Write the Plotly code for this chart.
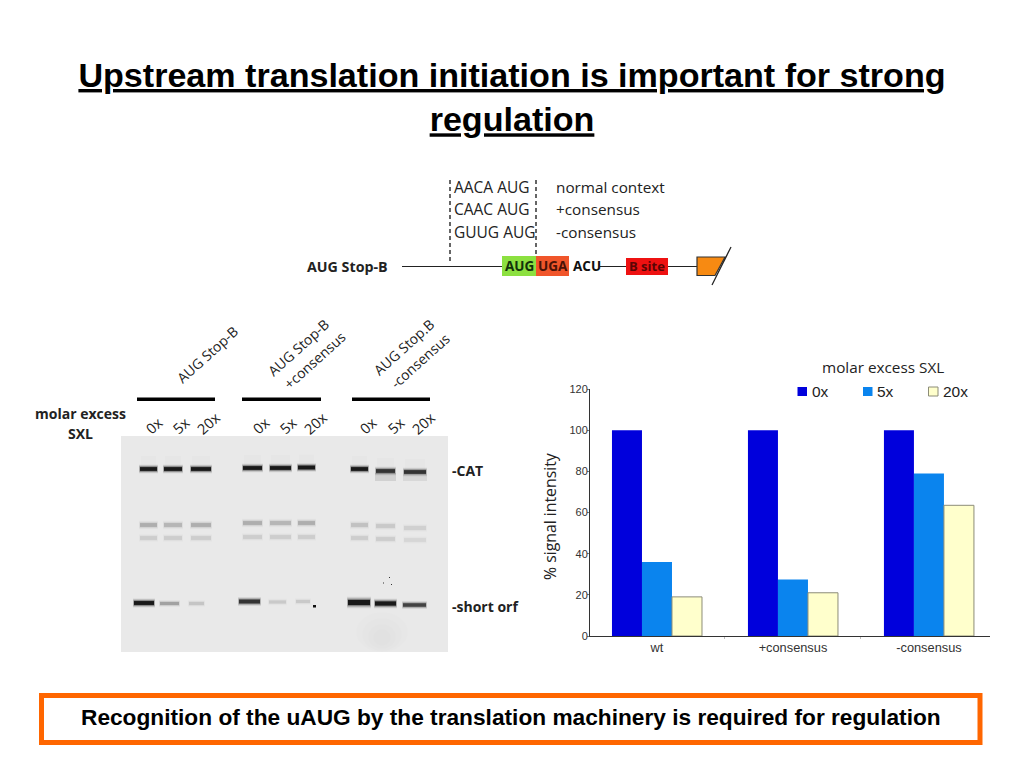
import plotly.graph_objects as go

# ---- chart data ----
categories = ["wt", "+consensus", "-consensus"]
series_names = ["0x", "5x", "20x"]
values_0x = [100, 100, 100]
values_5x = [36, 27.5, 79]
values_20x = [19, 21, 63.5]
y_ticks = [0, 20, 40, 60, 80, 100, 120]

# ---- page helpers: reference pixels to paper ----
W, H = 1024, 768
SANS = "Open Sans"
ARIAL = "Liberation Sans"
def px(x): return x / W
def py(y): return 1 - y / H

shapes, notes = [], []
def rect(x0, y0, x1, y1, fill, opacity=1.0, line=None, lw=0):
    shapes.append(dict(type="rect", xref="paper", yref="paper", x0=px(x0), x1=px(x1), y0=py(y0), y1=py(y1),
                       fillcolor=fill, opacity=opacity, layer="below",
                       line=dict(color=line or fill, width=lw)))
def seg(x0, y0, x1, y1, color="#222222", lw=1.2, dash="solid"):
    shapes.append(dict(type="line", xref="paper", yref="paper", x0=px(x0), x1=px(x1), y0=py(y0), y1=py(y1),
                       layer="below", line=dict(color=color, width=lw, dash=dash)))
def text(x, y, s, size=14, font=SANS, anchor="left", angle=0, color="#222222", bold=False):
    notes.append(dict(xref="paper", yref="paper", x=px(x), y=py(y), text=f"<b>{s}</b>" if bold else s,
                      showarrow=False, xanchor=anchor, yanchor="middle", textangle=angle,
                      font=dict(family=font, size=size, color=color), borderpad=0, borderwidth=0))

# ---- callout ----
rect(41.5, 695.5, 980, 742.5, "#ffffff", line="#ff6600", lw=5)
text(510.5, 717, "Recognition of the uAUG by the translation machinery is required for regulation",
     size=22.7, font=ARIAL, anchor="center", color="#000000", bold=True)

# ---- construct diagram ----
seg(450, 180, 450, 263, "#333333", 1.5, "4px,3px")
seg(536, 180, 536, 254, "#333333", 1.5, "4px,3px")
seg(402, 266.5, 505, 266.5)
seg(600, 266.5, 697, 266.5)
rect(502, 256, 536, 276, "#8ce040")
rect(536, 256, 569, 276, "#f0552a")
rect(626, 258, 668, 275, "#ee1111")
shapes.append(dict(type="path", xref="paper", yref="paper", layer="below",
                   path=f"M{px(697)},{py(257)} L{px(725)},{py(257)} L{px(715)},{py(275.5)} L{px(697)},{py(275.5)} Z",
                   fillcolor="#f78a12", line=dict(color="#333333", width=1.2)))
seg(731, 247, 712, 285, "#222222", 1.3)
text(307, 266, "AUG Stop-B", 14.2 * 12.5 / 14.2 * 81 / 71, bold=True)
for label, note, y in [("AACA AUG", "normal context", 187), ("CAAC AUG", "+consensus", 209.5), ("GUUG AUG", "-consensus", 232)]:
    text(454, y, label, 15.5)
    text(556, y, note, 15.3)
text(519, 266, "AUG", 13.5, anchor="center", color="#12330a", bold=True)
text(552.5, 266, "UGA", 13.5, anchor="center", color="#4a1206", bold=True)
text(586.5, 266, "ACU", 13.5, anchor="center", color="#111111", bold=True)
text(647, 266, "B site", 13, anchor="center", color="#5a0505", bold=True)

# ---- gel panel ----
rect(121, 436, 448, 652, "#e9e9e9")
for x0, x1, y0, y1 in [(356, 408, 652, 612), (362, 402, 651, 618), (368, 396, 649, 624), (373, 391, 646, 629)]:
    shapes.append(dict(type="circle", xref="paper", yref="paper", layer="below", x0=px(x0), x1=px(x1), y0=py(y0), y1=py(y1),
                       fillcolor="#000000", opacity=0.006, line=dict(width=0)))

def band(x0, x1, y, dark, thick=3.0):
    for grow, inset, alpha in [(1.6, 0, 0.08), (1.3, 0.3, 0.15), (1.0, 0.6, 0.3), (0.7, 1, 0.8)]:
        rect(x0 + inset, y - thick * grow, x1 - inset, y + thick * grow, "#000000", dark * alpha)

lanes = [(139, 158), (163, 183), (190, 212), (242, 263), (269, 292), (297, 316), (350, 369), (375, 396), (403, 427)]
cat_y = [469, 469, 469, 468, 468, 467.5, 469, 471, 472]
cat_dark = [1, 1, 1, 1, 1, 1, 1, 0.8, 0.8]
mid_y = [525, 525, 525, 523, 523, 523, 525, 526, 528]
mid_dark = [0.2, 0.17, 0.2, 0.2, 0.17, 0.2, 0.13, 0.1, 0.08]
low_y = [538, 538, 538, 537, 537, 537, 538, 539, 540]
low_dark = [0.09, 0.09, 0.09, 0.09, 0.09, 0.09, 0.09, 0.09, 0.06]
orf_lanes = [(133, 155), (159, 180), (188, 205), (238, 261), (268, 287), (295, 311), (347, 371), (374, 397), (402, 427)]
orf_y = [603, 603.5, 603.5, 601.5, 602, 601.5, 602.5, 603.5, 605]
orf_dark = [1, 0.25, 0.12, 0.8, 0.1, 0.1, 1, 1, 0.7]
orf_thick = [2.8, 2.2, 2.2, 2.8, 2.2, 2.2, 3.6, 3, 2.5]

for (a, b), y in zip(lanes, cat_y):
    rect(a + 2, y - 13, b - 2, y - 2, "#000000", 0.012)
rect(375, 473, 396, 481, "#000000", 0.1)
rect(403, 475, 427, 481, "#000000", 0.07)
for (a, b), y, d in zip(lanes, cat_y, cat_dark):
    band(a, b, y, d, 2.7)
for (a, b), y, d in zip(lanes, mid_y, mid_dark):
    band(a, b, y, d, 2.8)
for (a, b), y, d in zip(lanes, low_y, low_dark):
    band(a, b, y, d, 2.8)
for (a, b), y, d, t in zip(orf_lanes, orf_y, orf_dark, orf_thick):
    band(a, b, y, d, t)
rect(313, 605, 316, 607.5, "#111111")
for x, y in [(383, 582.5), (391, 584), (389, 577)]:
    rect(x, y, x + 1, y + 1, "#333333")

# ---- gel labels ----
for x0, x1 in [(137, 215), (242, 321), (352, 430)]:
    rect(x0, 397.5, x1, 401, "#000000")
text(207, 354, "AUG Stop-B", 14, anchor="center", angle=-42)
text(298, 347, "AUG Stop-B", 14, anchor="center", angle=-42)
text(314, 360, "+consensus", 14, anchor="center", angle=-42)
text(403, 347, "AUG Stop.B", 14, anchor="center", angle=-42)
text(420, 360, "-consensus", 14, anchor="center", angle=-42)
for xs in [(154, 181, 208), (261, 288, 315), (368, 396, 423)]:
    for x, s, yy in zip(xs, ["0x", "5x", "20x"], [425.5, 425.5, 423]):
        text(x, yy, s, 14.5, anchor="center", angle=-42)
text(80, 413, "molar excess", 14, anchor="center", bold=True)
text(80, 433, "SXL", 14, anchor="center", bold=True)
text(451.5, 470.5, "-CAT", 14, bold=True)
text(451.5, 606, "-short orf", 14, bold=True)

# ---- chart extras ----
colors = ["#0000dc", "#0a84ee", "#ffffcc"]
text(883, 367, "molar excess SXL", 15.3, anchor="center", color="#222222")
text(550, 517, "% signal intensity", 15.8, anchor="center", angle=-90, color="#222222")
for name, col, x0 in zip(series_names, colors, [797.5, 863, 928.5]):
    rect(x0, 387, x0 + 9.5, 396, col, line="#8c8c78" if name == "20x" else col, lw=1 if name == "20x" else 0)
    text(x0 + 14, 391.5, name, 15.5, font=ARIAL, color="#222222")

# ---- bars ----
fig = go.Figure()
for name, vals, col in zip(series_names, [values_0x, values_5x, values_20x], colors):
    fig.add_bar(x=categories, y=vals, name=name, marker_color=col,
                marker_line=dict(color="#8c8c78" if name == "20x" else col, width=1 if name == "20x" else 0))

fig.update_layout(
    width=W, height=H, margin=dict(l=0, r=0, t=0, b=0, autoexpand=False), autosize=False,
    paper_bgcolor="white", plot_bgcolor="white",
    barmode="group", bargap=0.338, bargroupgap=0,
    title=dict(text="Upstream translation initiation is important for strong<br>regulation",
               x=0.5, xanchor="center", xref="paper", y=1 - 87 / H, yanchor="middle",
               font=dict(family=ARIAL, size=34.1, color="#000000", weight="bold", lineposition="under")),
    xaxis=dict(domain=[px(590), px(990)], range=[-0.4926, 2.449], type="category",
               showgrid=False, showline=True, linecolor="#333333", linewidth=1,
               ticks="outside", ticklen=2, tickcolor="#bbbbbb", tickson="boundaries",
               tickfont=dict(family=ARIAL, size=12.8, color="#333333")),
    yaxis=dict(domain=[py(636), py(389)], range=[0, 120], tickvals=y_ticks,
               showgrid=False, zeroline=False, showline=True, linecolor="#333333", linewidth=1,
               ticks="outside", ticklen=2, tickcolor="#777777", ticklabelstandoff=-3,
               tickfont=dict(family=ARIAL, size=11, color="#333333")),
    shapes=shapes, annotations=notes, showlegend=False,
)

fig.write_html("out.html", config=dict(displayModeBar=False),
               post_script="document.body.style.margin='0';document.body.style.overflow='hidden';")
